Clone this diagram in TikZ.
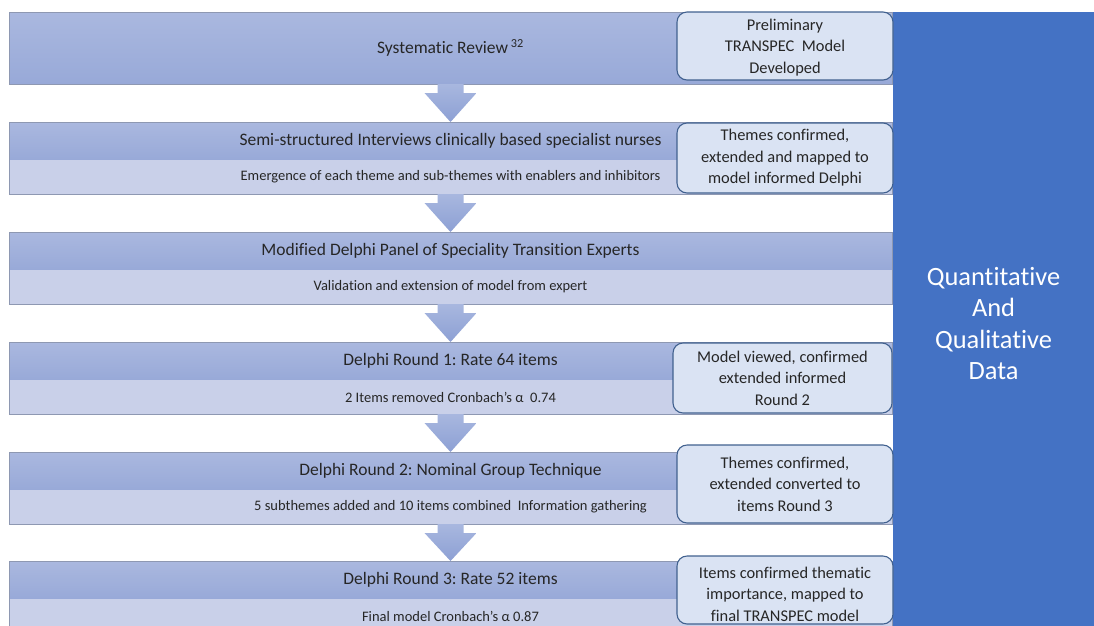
\documentclass[tikz,border=0pt]{standalone}
\usepackage{fontspec}
\setmainfont{Carlito}[Ligatures={NoCommon}]
\frenchspacing
\usetikzlibrary{calc}
\definecolor{hdrtop}{HTML}{AAB8DF}
\definecolor{hdrbot}{HTML}{98A9D8}
\definecolor{subfill}{HTML}{C9D0E9}
\definecolor{rowline}{HTML}{8E98B2}
\definecolor{rbfill}{HTML}{DAE3F3}
\definecolor{rbline}{HTML}{41618F}
\definecolor{panelblue}{HTML}{4472C4}
\definecolor{arrtop}{HTML}{A8B7DF}
\definecolor{arrbot}{HTML}{8DA0D4}
\definecolor{txt}{HTML}{262626}
\newcommand\flowarrow[2]{%
  \shade[top color=arrtop, bottom color=arrbot]
    ($(#1.south)+(-13,0)$) -- ($(#1.south)+(-13,9)$) -- ($(#1.south)+(-26,9)$)
    -- (#2.north) -- ($(#1.south)+(26,9)$) -- ($(#1.south)+(13,9)$)
    -- ($(#1.south)+(13,0)$) -- cycle;}
\begin{document}
\begin{tikzpicture}[x=1pt,y=-1pt,
  hdr/.style={minimum width=883pt, minimum height=38pt, inner sep=0pt, outer sep=0pt,
    top color=hdrtop, bottom color=hdrbot, text=txt, font=\fontsize{17.5}{20}\selectfont},
  subrow/.style={minimum width=883pt, minimum height=34pt, inner sep=0pt, outer sep=0pt,
    fill=subfill, text=txt, font=\fontsize{14.5}{17}\selectfont},
  rowframe/.style={draw=rowline, line width=0.6pt},
  rbox/.style={draw=rbline, line width=1.1pt, fill=rbfill, rounded corners=10pt,
    minimum width=216pt, inner sep=0pt, outer sep=0pt, align=center, text=txt,
    font=\fontsize{16.4}{21.5}\selectfont},
  rtext/.style={align=center, text=txt, inner sep=0pt, font=\fontsize{16.4}{21.5}\selectfont},
  panel/.style={fill=panelblue, minimum width=201pt, minimum height=614pt, inner sep=0pt,
    outer sep=0pt},
  paneltext/.style={text=white, align=center, inner sep=0pt, font=\fontsize{26.4}{31.5}\selectfont}]
\useasboundingbox (0,0) rectangle (1094,625);
\fill[white] (0,0) rectangle (1094,625);

% blue panel
\node[panel] (q) at (993.5,319) {};
\node[paneltext] (qt) at (993.5,323.5) {Quantitative\\And\\Qualitative\\Data};

% row 1
\node[hdr, minimum height=72pt] (r1) at (450.5,48) {Systematic Review\,\textsuperscript{32}};
\draw[rowframe] (r1.north west) rectangle (r1.south east);

% rows 2-6
\node[hdr] (h2) at (450.5,141) {Semi-structured Interviews clinically based specialist nurses};
\node[subrow] (s2) at (450.5,177) {Emergence of each theme and sub-themes with enablers and inhibitors};
\draw[rowframe] (h2.north west) rectangle (s2.south east);

\node[hdr] (h3) at (450.5,251) {Modified Delphi Panel of Speciality Transition Experts};
\node[subrow] (s3) at (450.5,287) {Validation and extension of model from expert};
\draw[rowframe] (h3.north west) rectangle (s3.south east);

\node[hdr] (h4) at (450.5,361) {Delphi Round 1: Rate 64 items};
\node[subrow] (s4) at (450.5,397) {2 Items removed Cronbach’s α\ \ 0.74};
\draw[rowframe] (h4.north west) rectangle (s4.south east);

\node[hdr] (h5) at (450.5,471) {Delphi Round 2: Nominal Group Technique};
\node[subrow] (s5) at (450.5,507) {5 subthemes added and 10 items combined\ \ Information gathering};
\draw[rowframe] (h5.north west) rectangle (s5.south east);

\node[hdr] (h6) at (450.5,580) {Delphi Round 3: Rate 52 items};
\node[subrow] (s6) at (450.5,616) {Final model Cronbach’s α 0.87};
\draw[rowframe] (h6.north west) rectangle (s6.south east);

% arrows
\flowarrow{r1}{h2}
\flowarrow{s2}{h3}
\flowarrow{s3}{h4}
\flowarrow{s4}{h5}
\flowarrow{s5}{h6}

% rounded boxes
\node[rbox, minimum height=68pt] (b1) at (785,46) {};
\node[rtext] (b1t) at (785,47.5) {Preliminary\\TRANSPEC\ \ Model\\Developed};
\node[rbox, minimum height=70pt] (b2) at (785,158) {Themes confirmed,\\extended and mapped to\\model informed Delphi};
\node[rbox, minimum height=70pt, minimum width=219pt] (b4) at (782.5,378) {Model viewed, confirmed\\extended informed\\Round 2};
\node[rbox, minimum height=78pt] (b5) at (785,484) {Themes confirmed,\\extended converted to\\items Round 3};
\node[rbox, minimum height=68pt] (b6) at (785,590) {};
\node[rtext] (b6t) at (785,594) {Items confirmed thematic\\importance, mapped to\\final TRANSPEC model};
\end{tikzpicture}
\end{document}
